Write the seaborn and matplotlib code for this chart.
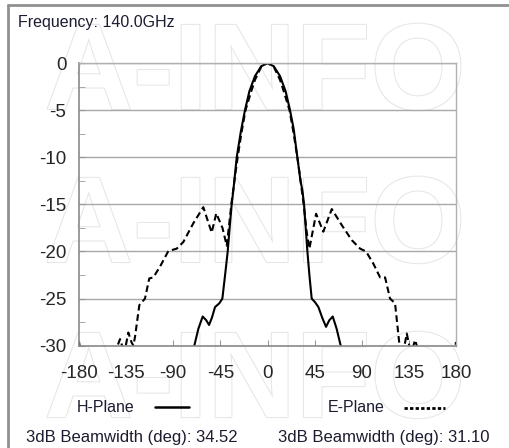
import numpy as np
import matplotlib.pyplot as plt
import seaborn as sns
from matplotlib import patheffects
from matplotlib.lines import Line2D

sns.set_style('white')
plt.rcParams['font.family'] = ['Liberation Sans', 'DejaVu Sans']
plt.rcParams['axes.unicode_minus'] = False

# H-Plane (solid)
h_deg = [-90, -69.9, -66, -61.9, -58.5, -55.8, -53, -50.1, -46, -43.1, -40.5, -38, -36, -34.2,
         -32.6, -29.4, -25.5, -21.5, -17.3, -12, -6, 0, 6, 12, 17.3, 21.5, 25, 28.5, 31.5,
         33.3, 34.9, 36.5, 38.1, 40, 42.2, 45.5, 48.6, 52.5, 55.9, 59, 62.3, 66, 69.9, 90]
h_db = [-40, -30, -28.2, -26.9, -27.3, -27.8, -27.0, -25.9, -25.5, -25.0, -22.5, -20.0, -17.3, -15.0,
        -13.5, -10.0, -7.3, -5.0, -3.0, -1.4, -0.35, 0, -0.35, -1.4, -3.0, -5.0, -7.0, -10.0, -12.5,
        -13.5, -15.0, -17.5, -20.0, -22.5, -25.0, -25.4, -25.9, -27.1, -28.0, -27.3, -26.9, -28.2, -30, -40]

# E-Plane (dashed)
e_deg = [-180, -178, -160, -147, -143.9, -140.8, -138, -135.7, -132.9, -130, -128.1, -126.5, -122.4,
         -117, -112.9, -109, -102.6, -94.7, -86.7, -80.4, -70.8, -61.3, -53.3, -48.9, -43, -38.9,
         -34.5, -31, -28.5, -25, -21, -15.5, -12, -6, 0, 6, 12, 15.5, 21, 25, 28.5, 31, 34.5, 37.5,
         40, 46.4, 53.3, 61.4, 70.9, 80.5, 88.4, 94.1, 101.1, 107.5, 112.3, 117, 121.8, 125.9,
         128.5, 130.5, 133, 135.9, 138, 140.9, 144, 147, 160, 178, 180]
e_db = [-29.6, -31, -32, -31, -30.2, -29.3, -30.3, -30.2, -28.6, -29.6, -30.0, -29.05, -25.7,
        -25.0, -22.86, -22.75, -21.6, -19.96, -19.7, -19.0, -17.0, -15.3, -18.0, -15.95, -17.5, -19.4,
        -15.0, -12.0, -10.0, -7.5, -5.0, -3.0, -1.8, -0.4, 0, -0.4, -1.8, -3.0, -5.0, -7.5, -10.0, -12.0, -15.0, -18.0,
        -19.7, -16.0, -17.9, -15.5, -17.2, -18.8, -19.7, -20.0, -21.3, -22.75, -22.75, -25.0, -25.5, -29.8,
        -31, -30.2, -28.7, -30.3, -30.5, -29.4, -30.5, -31, -32, -31, -29.6]

W, H = 510, 448
fig = plt.figure(figsize=(W / 100, H / 100), dpi=100)

# faint watermark, behind the axes
for yc in [77, 230, 385]:
    fig.text(0.5, 1 - yc / H, 'A-INFO', ha='center', va='center', fontsize=88, fontweight='bold',
             color='white', zorder=-5,
             path_effects=[patheffects.withStroke(linewidth=1.5, foreground='#e6e6e6')])

# frame lines (top and left)
fig.add_artist(Line2D([8 / W, 8 / W], [0, 1 - 5 / H], color='#909090', lw=2))
fig.add_artist(Line2D([8 / W, 1], [1 - 5 / H, 1 - 5 / H], color='#909090', lw=2))

ax = fig.add_axes([79 / W, 1 - 345.7 / H, 377 / W, (345.7 - 63) / H])
ax.set_facecolor('none')

sns.lineplot(x=h_deg, y=h_db, ax=ax, color='black', lw=1.5, sort=False, estimator=None)
sns.lineplot(x=e_deg, y=e_db, ax=ax, color='black', lw=1.5, sort=False, estimator=None,
             linestyle=(0, (3.2, 1.8)))

ax.set_xlim(-180, 180)
ax.set_ylim(-30, 0)
ax.set_xticks(range(-180, 181, 45))
ax.set_yticks(range(-30, 1, 5))
ax.set_yticks(np.arange(-27.5, 0, 5), minor=True)
ax.grid(axis='y', which='major', color='#a8a8a8', lw=1)
ax.grid(axis='x', visible=False)
ax.tick_params(axis='both', which='both', direction='in', length=4, color='#999999', labelsize=13.5)
ax.tick_params(axis='x', pad=14, bottom=True)
ax.tick_params(axis='y', pad=9, left=True)
ax.tick_params(axis='y', which='minor', left=True, length=4)
for lbl in ax.get_xticklabels() + ax.get_yticklabels():
    lbl.set_family(['Liberation Sans Narrow', 'Liberation Sans'])
for s in ['left', 'bottom']:
    ax.spines[s].set_color('#8a8a8a')
    ax.spines[s].set_linewidth(1.2)
for s in ['right', 'top']:
    ax.spines[s].set_color('#b0b0b0')
    ax.spines[s].set_linewidth(1)
ax.set_xlabel('')
ax.set_ylabel('')

txt = '#1c1c30'
fig.text(18 / W, 1 - 22 / H, 'Frequency: 140.0GHz', fontsize=11.5, color=txt, va='center')
fig.text(77 / W, 1 - 407 / H, 'H-Plane', fontsize=11.5, color=txt, va='center')
fig.add_artist(Line2D([155 / W, 189 / W], [1 - 407 / H] * 2, color='black', lw=1.8))
fig.text(328 / W, 1 - 407 / H, 'E-Plane', fontsize=11.5, color=txt, va='center')
fig.add_artist(Line2D([404 / W, 445 / W], [1 - 408 / H] * 2, color='black', lw=2,
                      linestyle=(0, (1.2, 0.8))))
fig.text(26 / W, 1 - 437 / H, '3dB Beamwidth (deg): 34.52', fontsize=12, color=txt, va='center')
fig.text(278 / W, 1 - 437 / H, '3dB Beamwidth (deg): 31.10', fontsize=12, color=txt, va='center')

fig.savefig('out.png', dpi=100)
